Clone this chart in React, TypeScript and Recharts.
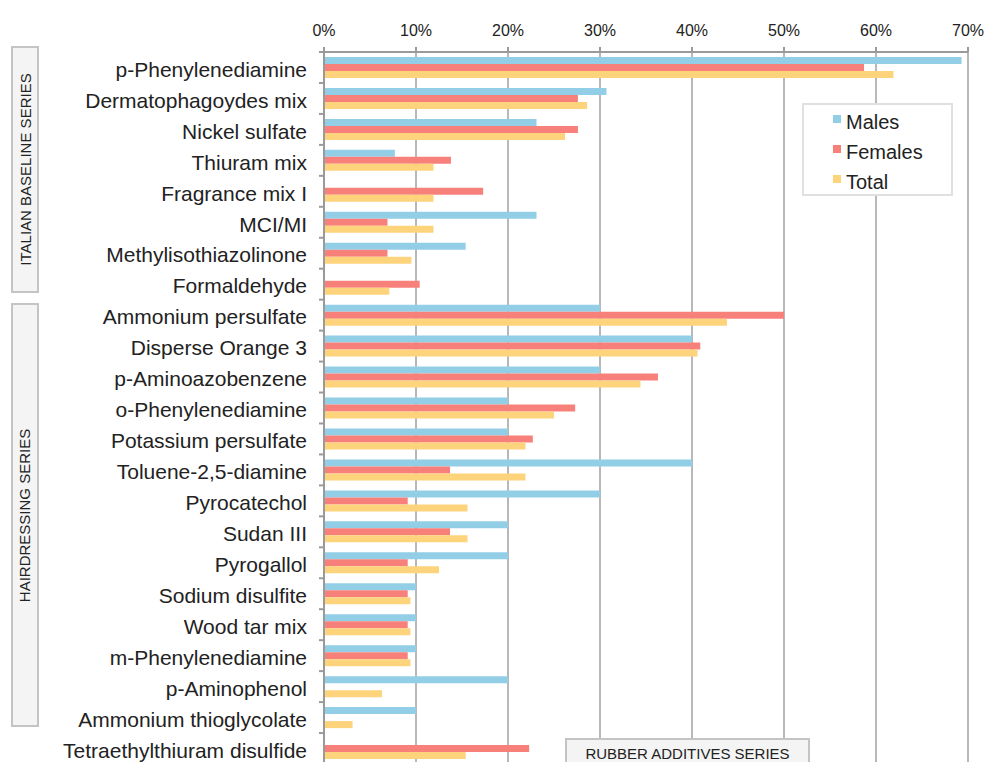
import { BarChart, Bar, XAxis, YAxis, CartesianGrid, Legend } from 'recharts';

const categories = [
  'p-Phenylenediamine',
  'Dermatophagoydes mix',
  'Nickel sulfate',
  'Thiuram mix',
  'Fragrance mix I',
  'MCI/MI',
  'Methylisothiazolinone',
  'Formaldehyde',
  'Ammonium persulfate',
  'Disperse Orange 3',
  'p-Aminoazobenzene',
  'o-Phenylenediamine',
  'Potassium persulfate',
  'Toluene-2,5-diamine',
  'Pyrocatechol',
  'Sudan III',
  'Pyrogallol',
  'Sodium disulfite',
  'Wood tar mix',
  'm-Phenylenediamine',
  'p-Aminophenol',
  'Ammonium thioglycolate',
  'Tetraethylthiuram disulfide',
];

const males = [69.3, 30.7, 23.1, 7.7, 0, 23.1, 15.4, 0, 30, 40, 30, 20, 20, 40, 30, 20, 20, 10, 10, 10, 20, 10, 0];
const females = [58.7, 27.6, 27.6, 13.8, 17.3, 6.9, 6.9, 10.4, 50, 40.9, 36.3, 27.3, 22.7, 13.7, 9.1, 13.7, 9.1, 9.1, 9.1, 9.1, 0, 0, 22.3];
const total = [61.9, 28.6, 26.2, 11.9, 11.9, 11.9, 9.5, 7.1, 43.8, 40.6, 34.4, 25, 21.9, 21.9, 15.6, 15.6, 12.5, 9.4, 9.4, 9.4, 6.3, 3.1, 15.4];

const xTicks = [0, 10, 20, 30, 40, 50, 60, 70];

const seriesInfo = [
  { key: 'males', label: 'Males', color: '#93CEE7' },
  { key: 'females', label: 'Females', color: '#F8807B' },
  { key: 'total', label: 'Total', color: '#FDD37C' },
];

const data = categories.map((name, i) => ({
  name,
  males: males[i],
  females: females[i],
  total: total[i],
}));

const W = 988;
const H = 770;
const MARGIN = { top: 22, right: 20, bottom: 6, left: 0 };
const X_AXIS_H = 30;
const BAND = (H - MARGIN.top - MARGIN.bottom - X_AXIS_H) / categories.length;
const FONT = '"Liberation Sans", Arial, Helvetica, sans-serif';

function CategoryTick(props: any) {
  const { x, y, payload } = props;
  return (
    <g>
      <line x1={x - 5} x2={x} y1={y - BAND / 2} y2={y - BAND / 2} stroke="#9a9a9a" strokeWidth={2} />
      <text x={x - 17} y={y} dy="0.44em" textAnchor="end" fontSize={21} fill="#222" fontFamily={FONT}>
        {payload.value}
      </text>
    </g>
  );
}

function LegendBox() {
  return (
    <div
      style={{
        boxSizing: 'border-box',
        width: 151,
        height: 93,
        border: '2px solid #e0e0e0',
        background: '#fff',
        paddingTop: 2,
        fontFamily: FONT,
        fontSize: 20,
        color: '#222',
      }}
    >
      {seriesInfo.map((s) => (
        <div key={s.key} style={{ display: 'flex', alignItems: 'center', height: 30, paddingLeft: 29 }}>
          <span style={{ width: 8, height: 8, background: s.color, marginRight: 5, marginTop: -6 }} />
          <span>{s.label}</span>
        </div>
      ))}
    </div>
  );
}

const groupBox: React.CSSProperties = {
  position: 'absolute',
  boxSizing: 'border-box',
  background: '#f4f4f4',
  border: '2px solid #c4c4c4',
  fontFamily: FONT,
  fontSize: 15,
  color: '#222',
  display: 'flex',
  alignItems: 'center',
  justifyContent: 'center',
  whiteSpace: 'nowrap',
};

export default function App() {
  return (
    <div style={{ position: 'relative', width: W, height: 762, overflow: 'hidden', background: '#fff' }}>
      <style>{'body{margin:0;overflow:hidden}'}</style>
      <BarChart
        width={W}
        height={H}
        data={data}
        layout="vertical"
        margin={MARGIN}
        barGap={0}
        barSize={7}
      >
        <CartesianGrid horizontal={false} stroke="#a0a0a0" strokeWidth={1.5} />
        <XAxis
          type="number"
          orientation="top"
          domain={[0, 70]}
          ticks={xTicks}
          height={X_AXIS_H}
          tickFormatter={(v: number) => `${v}%`}
          tick={{ fontSize: 16, fill: '#222', fontFamily: FONT }}
          tickSize={5}
          tickMargin={11}
          axisLine={{ stroke: '#9a9a9a', strokeWidth: 2 }}
          tickLine={{ stroke: '#9a9a9a', strokeWidth: 2 }}
          allowDataOverflow
        />
        <YAxis
          type="category"
          dataKey="name"
          width={324}
          tick={<CategoryTick />}
          tickSize={0}
          tickMargin={0}
          tickLine={false}
          axisLine={{ stroke: '#9a9a9a', strokeWidth: 2 }}
          interval={0}
        />
        <Legend
          layout="vertical"
          align="center"
          verticalAlign="middle"
          content={<LegendBox />}
          wrapperStyle={{ top: 103, left: 802, width: 151, height: 93 }}
        />
        {seriesInfo.map((s) => (
          <Bar key={s.key} dataKey={s.key} name={s.label} fill={s.color} isAnimationActive={false} />
        ))}
      </BarChart>
      <div style={{ ...groupBox, left: 11, top: 46, width: 28, height: 247 }}>
        <span style={{ transform: 'rotate(-90deg)' }}>ITALIAN BASELINE SERIES</span>
      </div>
      <div style={{ ...groupBox, left: 11, top: 303, width: 28, height: 424 }}>
        <span style={{ transform: 'rotate(-90deg)' }}>HAIRDRESSING SERIES</span>
      </div>
      <div style={{ ...groupBox, left: 565, top: 738, width: 245, height: 40, alignItems: 'flex-start', paddingTop: 5 }}>
        RUBBER ADDITIVES SERIES
      </div>
    </div>
  );
}
